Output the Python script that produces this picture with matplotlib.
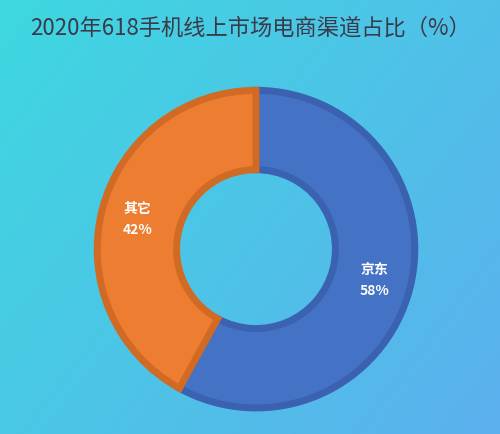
import numpy as np
import matplotlib.pyplot as plt

plt.rcParams['font.family'] = ['Noto Sans CJK SC', 'DejaVu Sans']

labels = ['京东', '其它']
values = [58, 42]
colors = ['#4472c4', '#ed7d31']
edges = ['#3a62b0', '#d06a25']

fig = plt.figure(figsize=(5, 4.35), dpi=100)

# gradient background
bg = fig.add_axes([0, 0, 1, 1])
x = np.linspace(0, 1, 200)
y = np.linspace(0, 1, 200)
X, Y = np.meshgrid(x, y)
t = (X * 0.6 + Y * 0.4)
c0 = np.array([0x3e, 0xd8, 0xe0]) / 255
c1 = np.array([0x5c, 0xb0, 0xee]) / 255
img = c0[None, None, :] * (1 - t[..., None]) + c1[None, None, :] * t[..., None]
bg.imshow(img, aspect='auto', extent=[0, 1, 0, 1])
bg.axis('off')

fig.text(0.5, 0.935, '2020年618手机线上市场电商渠道占比（%）', ha='center', va='center',
         fontsize=16, color='#3a3a4a', fontweight='medium')

ax = fig.add_axes([0.512 - 0.324, 0.425 - 0.3724, 0.648, 0.7448])
wedges, _ = ax.pie(values, colors=colors, startangle=90, counterclock=False,
                   radius=1, wedgeprops=dict(width=0.5, linewidth=5))
for w, e in zip(wedges, edges):
    w.set_edgecolor(e)
for w, lab, v in zip(wedges, labels, values):
    ang = np.deg2rad((w.theta1 + w.theta2) / 2)
    r = 0.77
    ax.text(r * np.cos(ang), r * np.sin(ang), f'{lab}\n{v}%', ha='center', va='center',
            color='white', fontsize=10, fontweight='bold', linespacing=1.6)
ax.set_xlim(-1.02, 1.02)
ax.set_ylim(-1.02, 1.02)
ax.set_aspect('equal')
ax.axis('off')

fig.savefig('out.png', dpi=100)
